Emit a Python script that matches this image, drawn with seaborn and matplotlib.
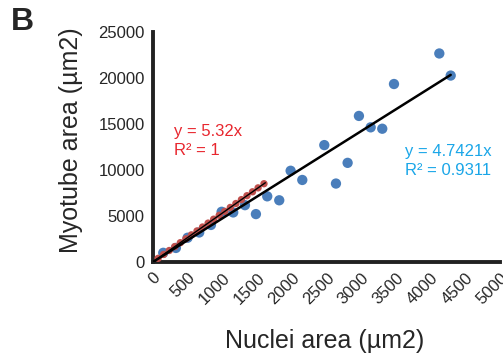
import matplotlib
matplotlib.use("Agg")
import matplotlib.pyplot as plt
import numpy as np
import pandas as pd
import seaborn as sns

# blue series: whole myotubes
nuclei_blue = [149, 331, 500, 667, 836, 990, 1157, 1326, 1484, 1647, 1820,
               1984, 2152, 2469, 2637, 2805, 2968, 3137, 3304, 3473, 4126, 4290]
myotube_blue = [1000, 1530, 2640, 3210, 4030, 5460, 5390, 6180, 5210, 7140, 6710,
                9920, 8920, 12710, 8530, 10780, 15880, 14640, 14490, 19350, 22670, 20270]

# red series
nuclei_red = [75, 155, 235, 315, 395, 475, 555, 635, 715, 795, 875, 955, 1035,
              1115, 1195, 1275, 1355, 1435, 1515, 1600]
myotube_red = [399, 825, 1250, 1676, 2101, 2527, 2953, 3378, 3804, 4229, 4655,
               5081, 5506, 5932, 6357, 6783, 7209, 7634, 8060, 8512]

blue_slope, blue_r2 = 4.7421, 0.9311
red_slope, red_r2 = 5.32, 1

x_ticks = [0, 500, 1000, 1500, 2000, 2500, 3000, 3500, 4000, 4500, 5000]
y_ticks = [0, 5000, 10000, 15000, 20000, 25000]

sns.set_style("white")
plt.rcParams['font.family'] = ['Liberation Sans', 'DejaVu Sans']

fig = plt.figure(figsize=(5.03, 3.56), dpi=100)
ax = fig.add_axes([0.304, 0.264, 0.690, 0.646])

blue_df = pd.DataFrame({'x': nuclei_blue, 'y': myotube_blue})
red_df = pd.DataFrame({'x': nuclei_red, 'y': myotube_red})

sns.scatterplot(data=blue_df, x='x', y='y', ax=ax, color='#4a7ebb', s=55,
                edgecolor='none', zorder=3)
sns.scatterplot(data=red_df, x='x', y='y', ax=ax, color='#c0504d', s=28,
                edgecolor='none', zorder=4)

bx = np.array([0, max(nuclei_blue)])
rx = np.array([0, max(nuclei_red) + 20])
sns.lineplot(x=bx, y=blue_slope * bx, ax=ax, color='black', linewidth=1.8, zorder=5)
sns.lineplot(x=rx, y=red_slope * rx, ax=ax, color='black', linewidth=1.0, zorder=5)

ax.set_xlim(0, 5000)
ax.set_ylim(0, 25000)
ax.set_xticks(x_ticks)
ax.set_yticks(y_ticks)
ax.set_xticklabels([str(t) for t in x_ticks], rotation=45, ha='right',
                   rotation_mode='anchor', fontsize=12)
ax.set_yticklabels([str(t) for t in y_ticks], fontsize=12)
ax.tick_params(axis='both', direction='out', length=3, width=2, color='#222222',
               pad=3)

for side in ['top', 'right']:
    ax.spines[side].set_visible(False)
for side in ['left', 'bottom']:
    ax.spines[side].set_linewidth(2.8)
    ax.spines[side].set_color('#222222')

ax.set_xlabel('Nuclei area (\u00b5m2)', fontsize=18)
ax.set_ylabel('Myotube area (\u00b5m2)', fontsize=18)
ax.xaxis.set_label_coords(0.496, -0.29)
ax.yaxis.set_label_coords(-0.20, 0.53)

ax.text(0.06, 0.60, f'y = {red_slope}x\nR\u00b2 = {red_r2}', transform=ax.transAxes,
        color='#e8262e', fontsize=12, linespacing=1.35, va='top')
ax.text(0.725, 0.515, f'y = {blue_slope}x\nR\u00b2 = {blue_r2}', transform=ax.transAxes,
        color='#1aa6e8', fontsize=12, linespacing=1.35, va='top')

fig.text(0.044, 0.938, 'B', fontsize=23, fontweight='bold', ha='center', va='center')

fig.savefig('out.png', dpi=100)
